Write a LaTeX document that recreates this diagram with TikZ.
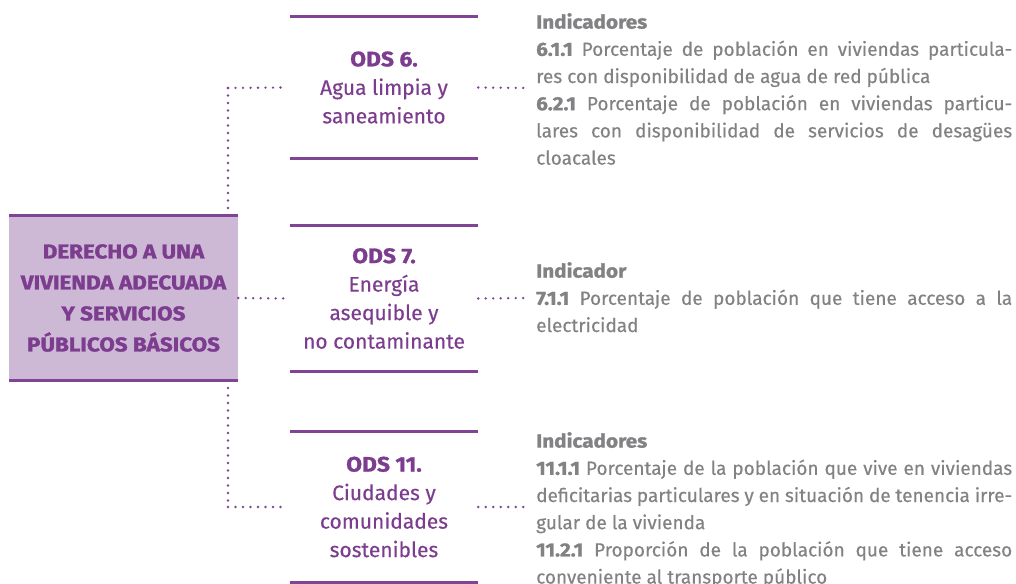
\documentclass[tikz,border=0pt]{standalone}
\usepackage{fontspec}
\setmainfont{Fira Sans}[UprightFeatures={FakeBold=0.3}, BoldFeatures={FakeBold=1.2, FakeStretch=1.09}]
\newfontfamily\mainheavy{Fira Sans}[BoldFeatures={FakeBold=1.6, FakeStretch=1.12}]
\definecolor{ptext}{RGB}{125,61,143}
\definecolor{pline}{RGB}{128,68,148}
\definecolor{pfill}{RGB}{205,184,214}
\definecolor{gtext}{RGB}{130,130,132}
\begin{document}
\begin{tikzpicture}[x=1pt,y=-1pt,
  dotline/.style={draw=pline, line width=2.6pt, line cap=round, dash pattern=on 0pt off 7.5pt},
  odsbox/.style={minimum width=188pt, inner sep=0pt, text=ptext, align=center, font=\fontsize{21}{28.5}\selectfont},
  odsrule/.style={draw=pline, line width=3pt},
  mainbox/.style={fill=pfill, minimum width=229pt, minimum height=164pt, inner sep=0pt, text=ptext, align=center, font=\mainheavy\bfseries\fontsize{20}{31}\selectfont},
  indtext/.style={anchor=north west, inner sep=0pt, text=gtext, align=left, font=\fontsize{19}{27.2}\selectfont}
]
\useasboundingbox (0,0) rectangle (1016,583);
\fill[white] (0,0) rectangle (1016,583);

% hubs
\coordinate (h6) at (228,88);
\coordinate (h11) at (228,507);
\coordinate (r6) at (525,88);
\coordinate (r7) at (525,298);
\coordinate (r11) at (525,507);

% ODS nodes
\node[odsbox, minimum height=141pt] (ods6) at (384,87.5) {\textbf{ODS 6.}\\Agua limpia y\\saneamiento};
\node[odsbox, minimum height=145pt] (ods7) at (384,298.5) {\textbf{ODS 7.}\\Energía\\asequible y\\no contaminante};
\node[odsbox, minimum height=150pt] (ods11) at (384,507) {\textbf{ODS 11.}\\Ciudades y\\comunidades\\sostenibles};

\foreach \n in {ods6,ods7,ods11}{
  \draw[odsrule] (\n.north west) -- (\n.north east);
  \draw[odsrule] (\n.south west) -- (\n.south east);
}

% dotted connectors
\draw[dotline] (h6) -- (h11);
\draw[dotline] (h6) -- ([xshift=-5pt]ods6.west);
\draw[dotline] (h11) -- ([xshift=-5pt]ods11.west);

% main box
\node[mainbox] (main) at (123.5,298) {DERECHO A UNA\\VIVIENDA ADECUADA\\Y SERVICIOS\\PÚBLICOS BÁSICOS};
\draw[odsrule] (main.north west) -- (main.north east);
\draw[odsrule] (main.south west) -- (main.south east);
\draw[dotline] (main.east) -- ([xshift=-5pt]ods7.west);

\draw[dotline] (ods6.east) -- (r6);
\draw[dotline] (ods7.east) -- (r7);
\draw[dotline] (ods11.east) -- (r11);

% indicators
\node[indtext] (ind6) at (536,13) {\textbf{Indicadores}\\
\makebox[476pt][s]{\textbf{6.1.1} Porcentaje de población en viviendas particula-}\\
res con disponibilidad de agua de red pública\\
\makebox[476pt][s]{\textbf{6.2.1} Porcentaje de población en viviendas particu-}\\
\makebox[476pt][s]{lares con disponibilidad de servicios de desagües}\\
cloacales};

\node[indtext] (ind7) at (536,262) {\textbf{Indicador}\\
\makebox[476pt][s]{\textbf{7.1.1} Porcentaje de población que tiene acceso a la}\\
electricidad};

\node[indtext] (ind11) at (536,432) {\textbf{Indicadores}\\
\makebox[476pt][s]{\textbf{11.1.1} Porcentaje de la población que vive en viviendas}\\
\makebox[476pt][s]{deficitarias particulares y en situación de tenencia irre-}\\
gular de la vivienda\\
\makebox[476pt][s]{\textbf{11.2.1} Proporción de la población que tiene acceso}\\
conveniente al transporte público};
\end{tikzpicture}
\end{document}
